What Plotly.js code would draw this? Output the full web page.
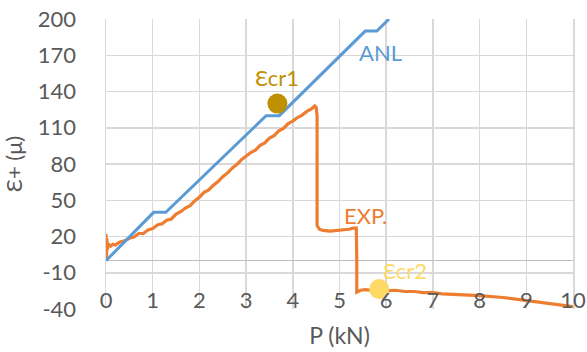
<!DOCTYPE html>
<html>
<head>
<meta charset="utf-8">
<script src="https://cdn.plot.ly/plotly-3.0.1.min.js"></script>
<style>
  html, body { margin: 0; padding: 0; background: #fff; }
  #chart { width: 587px; height: 352px; }
</style>
</head>
<body>
<div id="chart"></div>
<script>
// Analytical (ANL) strain curve
const anlP = [0, 1.02, 1.28, 3.43, 3.71, 5.55, 5.8, 6.06];
const anlE = [0, 40, 40, 120, 120, 190, 190, 200];

// Measured (EXP.) strain curve
const expP = [0, 0, 0.01, 0.02, 0.03, 0.05, 0.1, 0.15, 0.2, 0.3, 0.4, 0.5, 0.6, 0.7, 0.8, 0.9,
  1.0, 1.1, 1.2, 1.3, 1.4, 1.5, 1.6, 1.7, 1.8, 1.9, 2.0, 2.1, 2.2, 2.3, 2.4, 2.5, 2.6, 2.7, 2.8, 2.9,
  3.0, 3.1, 3.2, 3.3, 3.4, 3.5, 3.6, 3.7, 3.8, 3.9, 4.0, 4.1, 4.2, 4.3, 4.4, 4.47, 4.5,
  4.52, 4.52, 4.51, 4.52, 4.57, 4.65, 4.8, 5.0, 5.1, 5.2, 5.3, 5.36,
  5.37, 5.37, 5.45, 5.55, 5.7, 5.85, 6.0, 6.2, 6.4, 6.6, 6.8, 7.0, 7.2, 7.5, 8.0, 8.5, 9.0, 9.5, 10.0];
const expE = [5, 22, 0, 18, 9, 14, 12, 13.5, 13, 15.5, 16.5, 18.5, 19.5, 22.5, 22.5, 25.5,
  26.5, 29.5, 30.5, 33.5, 34.5, 38.5, 40.5, 43.5, 45.5, 49.5, 52.5, 56.5, 58.5, 62.5, 65.5, 69.5, 72.5, 76.5, 79.5, 83.5,
  86.5, 89.5, 91.5, 95.5, 97.5, 101.5, 103.5, 107.5, 109.5, 113.5, 115.5, 118.5, 120.5, 123.5, 125.5, 128, 127,
  120, 60, 35, 29, 26, 25, 24.5, 25, 25.5, 26, 27, 27,
  0, -26, -24.5, -24, -24.5, -24, -25, -24.5, -25.5, -25.5, -26.5, -26.5, -27.5, -28, -29, -30.5, -33, -35.5, -38];

// Cracking points
const cr1P = [3.67], cr1E = [130];
const cr2P = [5.85], cr2E = [-23.5];

const yTicks = [-40, -10, 20, 50, 80, 110, 140, 170, 200];
const xTicks = [0, 1, 2, 3, 4, 5, 6, 7, 8, 9, 10];

const FONT = 'Lato, "Open Sans", sans-serif';
const GREY = '#595959';

const traces = [
  { x: expP, y: expE, mode: 'lines', name: 'EXP.',
    line: { color: '#ed7d31', width: 3.2 } },
  { x: anlP, y: anlE, mode: 'lines', name: 'ANL',
    line: { color: '#5b9bd5', width: 3 } },
  { x: cr1P, y: cr1E, mode: 'markers', name: 'Ɛcr1',
    marker: { color: '#bf9000', size: 20 } },
  { x: cr2P, y: cr2E, mode: 'markers', name: 'Ɛcr2',
    marker: { color: '#ffd966', size: 20 } }
];

const layout = {
  width: 587, height: 352,
  margin: { l: 106, r: 14, t: 19, b: 43 },
  paper_bgcolor: '#ffffff', plot_bgcolor: '#ffffff',
  showlegend: false,
  font: { family: FONT, color: GREY, size: 22 },
  xaxis: {
    range: [0, 10], tickvals: xTicks, ticktext: xTicks.map(String),
    showgrid: true, gridcolor: '#d9d9d9', gridwidth: 1.5,
    zeroline: true, zerolinecolor: '#d9d9d9', zerolinewidth: 1.5,
    showline: false, ticks: '',
    anchor: 'free', position: 0.083,
    tickfont: { family: FONT, size: 22, color: GREY },
    title: { text: 'P (kN)', font: { family: FONT, size: 23, color: GREY }, standoff: 15 }
  },
  yaxis: {
    range: [-40, 200], tickvals: yTicks, ticktext: yTicks.map(String),
    showgrid: true, gridcolor: '#d9d9d9', gridwidth: 1.5,
    zeroline: true, zerolinecolor: '#bfbfbf', zerolinewidth: 1.5,
    showline: true, mirror: true, linecolor: '#d9d9d9', linewidth: 1.5,
    ticks: '', ticklabelstandoff: 24,
    tickfont: { family: FONT, size: 22, color: GREY },
    title: { text: 'Ɛ+ (μ)', font: { family: FONT, size: 22, color: GREY }, standoff: 10 }
  },
  annotations: [
    { x: 5.87, y: 172, text: 'ANL', showarrow: false,
      font: { family: FONT, size: 22, color: '#5b9bd5' } },
    { x: 5.55, y: 37, text: 'EXP.', showarrow: false,
      font: { family: FONT, size: 22, color: '#ed7d31' } },
    { x: cr1P[0], y: cr1E[0], yshift: 26, text: 'Ɛcr1', showarrow: false,
      font: { family: FONT, size: 22, color: '#bf9000' } },
    { x: cr2P[0], y: cr2E[0], xshift: 26, yshift: 19, text: 'Ɛcr2', showarrow: false,
      font: { family: FONT, size: 22, color: '#ffd966' } }
  ]
};

Plotly.newPlot('chart', traces, layout, { staticPlot: true, displayModeBar: false });
</script>
</body>
</html>
